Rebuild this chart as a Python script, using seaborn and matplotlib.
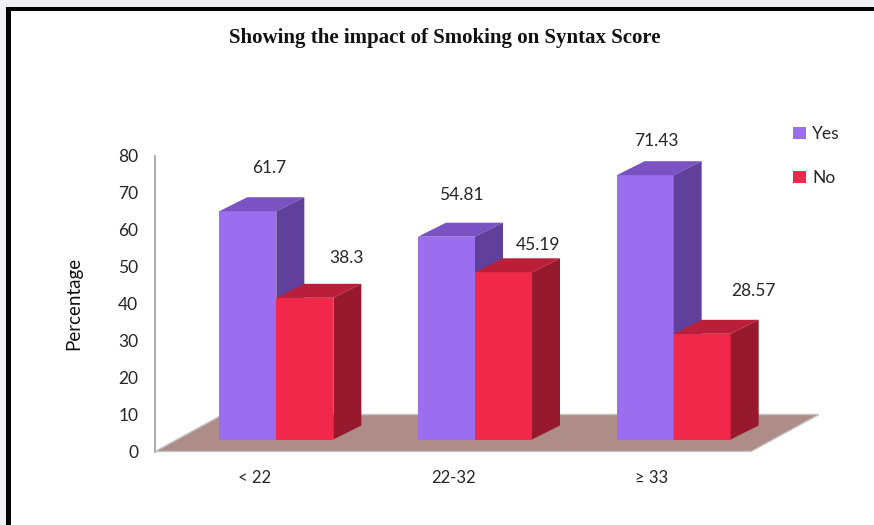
import matplotlib
matplotlib.use("Agg")
import matplotlib.pyplot as plt
from matplotlib.patches import Polygon, Rectangle, Patch
from matplotlib.transforms import ScaledTranslation
import numpy as np
import pandas as pd
import seaborn as sns

# Data
categories = ["< 22", "22-32", "\u2265 33"]
smoking_levels = ["Yes", "No"]
yes_values = [61.7, 54.81, 71.43]
no_values = [38.3, 45.19, 28.57]
y_ticks = [0, 10, 20, 30, 40, 50, 60, 70, 80]

# Styling
front_colors = {"Yes": "#9B6EF0", "No": "#F2284B"}
top_colors = {"Yes": "#7A52C2", "No": "#BA1E39"}
side_colors = {"Yes": "#60409A", "No": "#97192E"}
floor_color = "#AE8D89"
# label offsets (pixels right, pixels up) from each bar's top centre
label_offsets = {
    "Yes": [(43, 55), (37, 54), (33, 46)],
    "No": [(64, 52), (57, 39), (73, 55)],
}

sns.set_style("white")
plt.rcParams["font.family"] = ["Lato", "DejaVu Sans"]

W, H, DPI = 874, 525, 100
fig = plt.figure(figsize=(W / DPI, H / DPI), dpi=DPI)
fig.patch.set_facecolor("#EEF0F3")

# framed page
fig.add_artist(Rectangle((6 / W, -0.1), 1.2, (H - 7) / H + 0.1,
                         transform=fig.transFigure, facecolor="black",
                         edgecolor="none", zorder=-10))
fig.add_artist(Rectangle((11 / W, -0.1), 1.2, (H - 11) / H + 0.1,
                         transform=fig.transFigure, facecolor="white",
                         edgecolor="none", zorder=-9))

ax = fig.add_axes([155 / W, (H - 451.5) / H, 596 / W, 296 / H])
ax.set_facecolor("none")

df = pd.DataFrame({
    "Syntax Score": categories * 2,
    "Smoking": ["Yes"] * 3 + ["No"] * 3,
    "Percentage": yes_values + no_values,
})

sns.barplot(data=df, x="Syntax Score", y="Percentage", hue="Smoking",
            order=categories, hue_order=smoking_levels,
            palette=front_colors, saturation=1, width=0.574,
            legend=False, ax=ax, linewidth=0, edgecolor="none")

ax.set_xlim(-0.5, 2.5)
ax.set_ylim(0, 80)
ax.set_yticks(y_ticks)


def px_to_data(dx, dy):
    p0 = ax.transData.transform((0, 0))
    q = ax.transData.inverted().transform(p0 + np.array([dx, dy]))
    return q[0], q[1]


# floor of the 3-D plot area
fdx, fdy = px_to_data(68, 37)
floor = Polygon([(-0.5, 0), (2.5, 0), (2.5 + fdx, fdy), (-0.5 + fdx, fdy)],
                closed=True, facecolor=floor_color, edgecolor="#C4C4C4",
                linewidth=1, zorder=1, clip_on=False)
ax.add_patch(floor)

# bars sit partway back on the floor, with top and side faces
shift = ax.transData + ScaledTranslation(22 / DPI, 12 / DPI, fig.dpi_scale_trans)
ddx, ddy = px_to_data(28, 14)

for z, (container, level) in enumerate(zip(ax.containers, smoking_levels)):
    for bar in container:
        bar.set_transform(shift)
        bar.set_zorder(3 + z)
        bar.set_clip_on(False)
        x0 = bar.get_x()
        x1 = x0 + bar.get_width()
        h = bar.get_height()
        top = Polygon([(x0, h), (x1, h), (x1 + ddx, h + ddy), (x0 + ddx, h + ddy)],
                      closed=True, facecolor=top_colors[level], edgecolor="none",
                      transform=shift, zorder=3 + z, clip_on=False)
        side = Polygon([(x1, 0), (x1 + ddx, ddy), (x1 + ddx, h + ddy), (x1, h)],
                       closed=True, facecolor=side_colors[level], edgecolor="none",
                       transform=shift, zorder=3 + z, clip_on=False)
        ax.add_patch(top)
        ax.add_patch(side)

# value labels
for container, level in zip(ax.containers, smoking_levels):
    for bar, (ox, oy) in zip(container, label_offsets[level]):
        h = bar.get_height()
        cx = bar.get_x() + bar.get_width() / 2
        ax.annotate(f"{h:g}", xy=(cx, h), xytext=(ox * 0.72, oy * 0.72),
                    textcoords="offset points", ha="center", va="center",
                    fontsize=12.5, color="#262626", zorder=10,
                    annotation_clip=False)

# axes styling
for s in ["top", "right", "bottom"]:
    ax.spines[s].set_visible(False)
ax.spines["left"].set_color("#A6A6A6")
ax.spines["left"].set_linewidth(1.3)
ax.tick_params(axis="y", length=0, pad=12, labelsize=12.5, labelcolor="#262626")
ax.tick_params(axis="x", length=0, pad=13, labelsize=12, labelcolor="#262626")
ax.set_xlabel("")
ax.set_ylabel("Percentage", fontsize=13.5, color="#111111", labelpad=26)

fig.text(445 / W, 1 - 38 / H, "Showing the impact of Smoking on Syntax Score",
         ha="center", va="center", fontsize=15, fontweight="bold",
         family=["Liberation Serif", "DejaVu Serif"], color="#111111")

handles = [Patch(facecolor=front_colors[k], edgecolor="none") for k in smoking_levels]
fig.legend(handles, smoking_levels, loc="upper left",
           bbox_to_anchor=(793 / W, 1 - 126 / H), frameon=False,
           handlelength=0.75, handleheight=0.75, handletextpad=0.35,
           labelspacing=1.62, fontsize=12.5, borderpad=0, borderaxespad=0)

fig.savefig("out.png", dpi=DPI, facecolor=fig.get_facecolor())
